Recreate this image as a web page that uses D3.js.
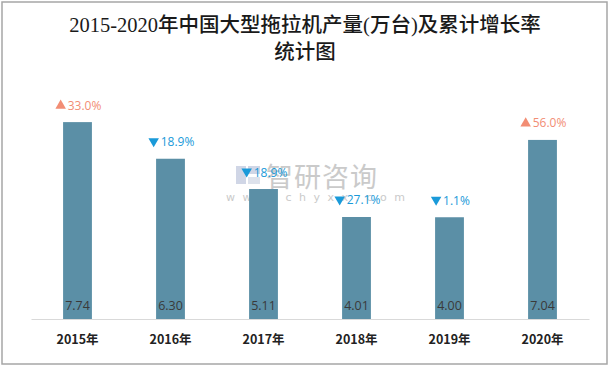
<!DOCTYPE html>
<html><head><meta charset="utf-8">
<script src="https://cdn.jsdelivr.net/npm/d3@7/dist/d3.min.js"></script>
<style>body{margin:0;background:#fff}svg{display:block}</style>
</head><body>
<svg id="c" width="610" height="367"></svg>
<script>
const categories = ["2015年","2016年","2017年","2018年","2019年","2020年"];
const production = [7.74, 6.30, 5.11, 4.01, 4.00, 7.04];
const growth = [33.0, -18.9, -18.9, -27.1, -1.1, 56.0];
const titleLines = ["2015-2020年中国大型拖拉机产量(万台)及累计增长率","统计图"];

const svg = d3.select("#c");
svg.append("rect").attr("x",2).attr("y",2).attr("width",605).attr("height",362)
  .attr("fill","#fff").attr("stroke","#a6a6a6").attr("stroke-width",1.5);

const x = d3.scaleBand().domain(categories).range([31,589]).paddingInner(0.69).paddingOuter(0.345);
const y = d3.scaleLinear().domain([0,8]).range([319,115.5]);

// title
svg.append("g").selectAll("text").data(titleLines).join("text")
  .attr("x",305).attr("y",(d,i)=>32+i*27).attr("text-anchor","middle")
  .attr("font-family","'Liberation Serif','DejaVu Serif','Noto Sans CJK SC',serif")
  .attr("font-size",20.5).attr("font-weight",500).attr("fill","#1a1a1a").text(d=>d);

// watermark
const wm = svg.append("g").attr("opacity",0.8);
wm.append("rect").attr("x",236).attr("y",166).attr("width",10).attr("height",18).attr("fill","#c5cde0");
wm.append("rect").attr("x",248).attr("y",166).attr("width",12).attr("height",8).attr("fill","#c5cde0");
wm.append("rect").attr("x",248).attr("y",177).attr("width",12).attr("height",7).attr("fill","#d5dbe8");
wm.append("text").attr("x",266).attr("y",187).attr("font-family","'Noto Sans CJK SC',sans-serif")
  .attr("font-size",27).attr("fill","#bdbdbd").attr("letter-spacing",1).text("智研咨询");
wm.append("text").attr("x",226).attr("y",201).attr("font-family","'DejaVu Sans',sans-serif")
  .attr("font-size",11).attr("fill","#bdbdbd").attr("letter-spacing",7.5).text("www.chyxx.com");

// bars
svg.append("g").selectAll("rect").data(production).join("rect")
  .attr("x",(d,i)=>x(categories[i])).attr("width",x.bandwidth())
  .attr("y",d=>y(d)).attr("height",d=>y(0)-y(d)).attr("fill","#5b8fa6");

// axis
const axis = svg.append("g").attr("transform","translate(0,319)")
  .call(d3.axisBottom(x).tickSize(0).tickPadding(16));
axis.select(".domain").attr("stroke","#d9d9d9").attr("stroke-width",1.2);
axis.selectAll("text").attr("font-family","'Noto Sans CJK SC',sans-serif")
  .attr("font-size",12.5).attr("font-weight","bold").attr("fill","#222");

// value labels
svg.append("g").selectAll("text").data(production).join("text")
  .attr("x",(d,i)=>x(categories[i])+x.bandwidth()/2).attr("y",310)
  .attr("text-anchor","middle").attr("font-family","'Open Sans','DejaVu Sans',sans-serif")
  .attr("font-size",12.5).attr("fill","#3a3a3a").text(d=>d.toFixed(2));

// growth labels: triangle mark + text
const col = d=>d>=0?"#f28d74":"#1a9ad9";
const gg = svg.append("g").selectAll("g").data(growth).join("g")
  .attr("transform",(d,i)=>`translate(${x(categories[i])+x.bandwidth()/2+1},${y(production[i])-17})`);
const gt = gg.append("text").attr("x",6).attr("y",4.5).attr("text-anchor","middle")
  .attr("font-family","'Open Sans','DejaVu Sans',sans-serif")
  .attr("font-size",12).attr("fill",col).text(d=>Math.abs(d).toFixed(1)+"%");
gg.each(function(d){
  const w = d3.select(this).select("text").node().getComputedTextLength();
  d3.select(this).append("path")
    .attr("d", d3.symbol().type(d3.symbolTriangle).size(48)())
    .attr("transform", `translate(${6-w/2-7},${d>=0?0.5:-0.5}) rotate(${d>=0?0:180})`)
    .attr("fill", col(d));
});
</script>
</body></html>
